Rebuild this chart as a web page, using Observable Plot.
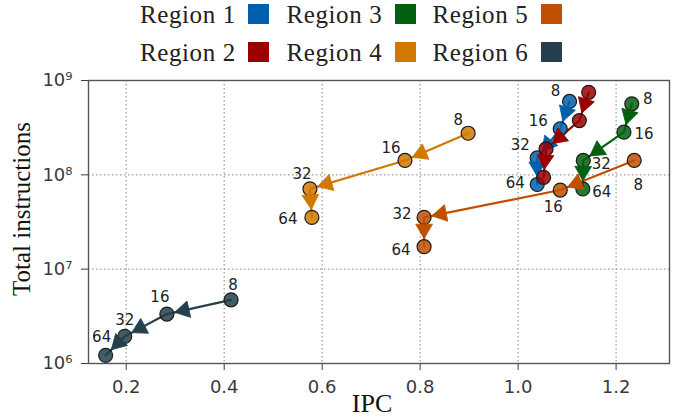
<!DOCTYPE html>
<html>
<head>
<meta charset="utf-8">
<script src="https://cdn.jsdelivr.net/npm/d3@7"></script>
<script src="https://cdn.jsdelivr.net/npm/@observablehq/plot@0.6"></script>
<style>
  body { margin: 0; background: #fff; }
  #legend { position: relative; width: 681px; height: 70px; font-family: "Liberation Serif", serif; font-size: 25px; color: #222; }
  .item { position: absolute; height: 21px; }
  .item span { position: absolute; left: 0; top: -2.7px; letter-spacing: 0.6px; white-space: nowrap; line-height: 28px; }
  .item i { position: absolute; left: 108px; top: 0; width: 21px; height: 20px; }
  #chart svg { display: block; }
</style>
</head>
<body>
<div id="legend"></div>
<div id="chart"></div>
<script>
// ---- data ----
const regions = ["Region 1", "Region 2", "Region 3", "Region 4", "Region 5", "Region 6"];
const colors  = ["#0060ad", "#9b0000", "#00600f", "#d07800", "#c04f00", "#253f4c"];
const threads = [8, 16, 32, 64];

const region1IPC  = [1.105, 1.086, 1.039, 1.039];
const region1Inst = [6.0e8, 3.07e8, 1.51e8, 7.9e7];
const region2IPC  = [1.144, 1.125, 1.057, 1.052];
const region2Inst = [7.5e8, 3.76e8, 1.88e8, 9.4e7];
const region3IPC  = [1.232, 1.216, 1.133, 1.132];
const region3Inst = [5.66e8, 2.83e8, 1.42e8, 7.1e7];
const region4IPC  = [0.898, 0.769, 0.575, 0.579];
const region4Inst = [2.76e8, 1.42e8, 7.1e7, 3.54e7];
const region5IPC  = [1.237, 1.086, 0.808, 0.808];
const region5Inst = [1.42e8, 6.9e7, 3.54e7, 1.73e7];
const region6IPC  = [0.414, 0.283, 0.197, 0.158];
const region6Inst = [4.73e6, 3.34e6, 1.94e6, 1.22e6];

const ipcByRegion  = [region1IPC, region2IPC, region3IPC, region4IPC, region5IPC, region6IPC];
const instByRegion = [region1Inst, region2Inst, region3Inst, region4Inst, region5Inst, region6Inst];

const xTicks = [0.2, 0.4, 0.6, 0.8, 1.0, 1.2];
const yTicks = [1e6, 1e7, 1e8, 1e9];

// ---- label placement (style: pixel nudges of the thread-count labels) ----
const labelNudge = [
  [[-14, -10], [-22, -8], [-17, -13], [-22, -1]],
  null,
  [[16, -5], [20, 2], [18, 4], [19, 3]],
  [[-10, -13], [-14, -12], [-8, -15], [-24, 2]],
  [[4, 25], [-7, 17], [-22, -3], [-23, 3]],
  [[2, -15], [-7, -17], [0, -16], [-4, -18]]
];

// ---- legend ----
const legend = document.getElementById("legend");
const colLeft = [140, 286.5, 432.5];
const rowTop = [3.5, 41.5];
regions.forEach((name, i) => {
  const it = document.createElement("div");
  it.className = "item";
  it.style.left = colLeft[Math.floor(i / 2)] + "px";
  it.style.top = rowTop[i % 2] + "px";
  const s = document.createElement("span");
  s.textContent = name;
  const sw = document.createElement("i");
  sw.style.background = colors[i];
  it.appendChild(s); it.appendChild(sw);
  legend.appendChild(it);
});

// ---- table ----
const series = regions.map((name, r) => threads.map((t, k) => ({
  region: name, threads: t, ipc: ipcByRegion[r][k], inst: instByRegion[r][k]
})));
const allPts = series.flat();

const supDigits = "⁰¹²³⁴⁵⁶⁷⁸⁹";
const fmtPow = d => "10" + String(Math.round(Math.log10(d))).split("").map(c => supDigits[+c]).join("");

const base = {
  width: 681, height: 348,
  marginTop: 10, marginRight: 12, marginBottom: 55, marginLeft: 88,
  style: { fontFamily: "DejaVu Sans, sans-serif", fontSize: "18px", color: "#3a3a3a", background: "#fff" },
  x: { domain: [0.123, 1.309], ticks: xTicks, tickFormat: d => d.toFixed(1), label: null, tickSize: 7, tickPadding: 10 },
  y: { type: "log", domain: [1e6, 1e9], ticks: yTicks, tickFormat: fmtPow, label: null, tickSize: 7, tickPadding: 9 }
};

// probe the scales so that arrowheads/labels can be placed in screen space
const probe = Plot.plot({ ...base, marks: [Plot.dot(allPts, { x: "ipc", y: "inst", r: 0 })] });
const sxo = probe.scale("x"), syo = probe.scale("y");
const X = d3.scaleLinear(sxo.domain, sxo.range);
const Y = d3.scaleLog(syo.domain, syo.range);

const R = 7;             // circle radius
const HR = 6.2;          // arrowhead symbol r
const apex = 2 * Math.sqrt((Math.PI * HR * HR) / (3 * Math.sqrt(3)));

function heads(pts) {
  const out = [];
  for (let i = 0; i < pts.length - 1; i++) {
    const a = pts[i], b = pts[i + 1];
    const ax = X(a.ipc), ay = Y(a.inst), bx = X(b.ipc), by = Y(b.inst);
    const len = Math.hypot(bx - ax, by - ay);
    const ux = (bx - ax) / len, uy = (by - ay) / len;
    const back = R + 1 + apex;
    const cx = bx - ux * back, cy = by - uy * back;
    out.push({ ipc: X.invert(cx), inst: Y.invert(cy), angle: Math.atan2(ux, -uy) * 180 / Math.PI });
  }
  return out;
}

function labels(pts, nudge) {
  if (!nudge) return [];
  return pts.map((p, k) => ({
    ipc: X.invert(X(p.ipc) + nudge[k][0]),
    inst: Y.invert(Y(p.inst) + nudge[k][1]),
    text: String(p.threads)
  }));
}

const marks = [
  Plot.ruleX(xTicks, { stroke: "#9a9a9a", strokeWidth: 1.2, strokeDasharray: "1.5,2.5" }),
  Plot.ruleY(yTicks, { stroke: "#9a9a9a", strokeWidth: 1.2, strokeDasharray: "1.5,2.5" })
];
series.forEach((pts, r) => {
  marks.push(Plot.line(pts, { x: "ipc", y: "inst", stroke: colors[r], strokeWidth: 2.2 }));
});
series.forEach((pts, r) => {
  marks.push(Plot.dot(pts, { x: "ipc", y: "inst", r: R, fill: colors[r], fillOpacity: 0.85, stroke: "#1b1b1b", strokeWidth: 1.2 }));
  marks.push(Plot.dot(heads(pts), { x: "ipc", y: "inst", r: HR, symbol: "triangle", rotate: "angle", fill: colors[r], stroke: colors[r], strokeWidth: 0.8 }));
});
series.forEach((pts, r) => {
  marks.push(Plot.text(labels(pts, labelNudge[r]), { x: "ipc", y: "inst", text: "text", fill: "#222", fontSize: 15, fontFamily: "DejaVu Sans, sans-serif" }));
});
marks.push(Plot.frame({ stroke: "#555", strokeWidth: 1.4 }));
marks.push(Plot.text(["IPC"], { text: d => d, frameAnchor: "bottom", lineAnchor: "middle", textAnchor: "middle", dx: -7, dy: 40, fontFamily: "Liberation Serif, serif", fontSize: 26, fill: "#111" }));
marks.push(Plot.text(["Total instructions"], { text: d => d, frameAnchor: "left", textAnchor: "middle", lineAnchor: "middle", rotate: -90, dx: -67, dy: -13, fontFamily: "Liberation Serif, serif", fontSize: 25, fill: "#111" }));

const chart = Plot.plot({ ...base, marks });
document.getElementById("chart").appendChild(chart);
</script>
</body>
</html>
